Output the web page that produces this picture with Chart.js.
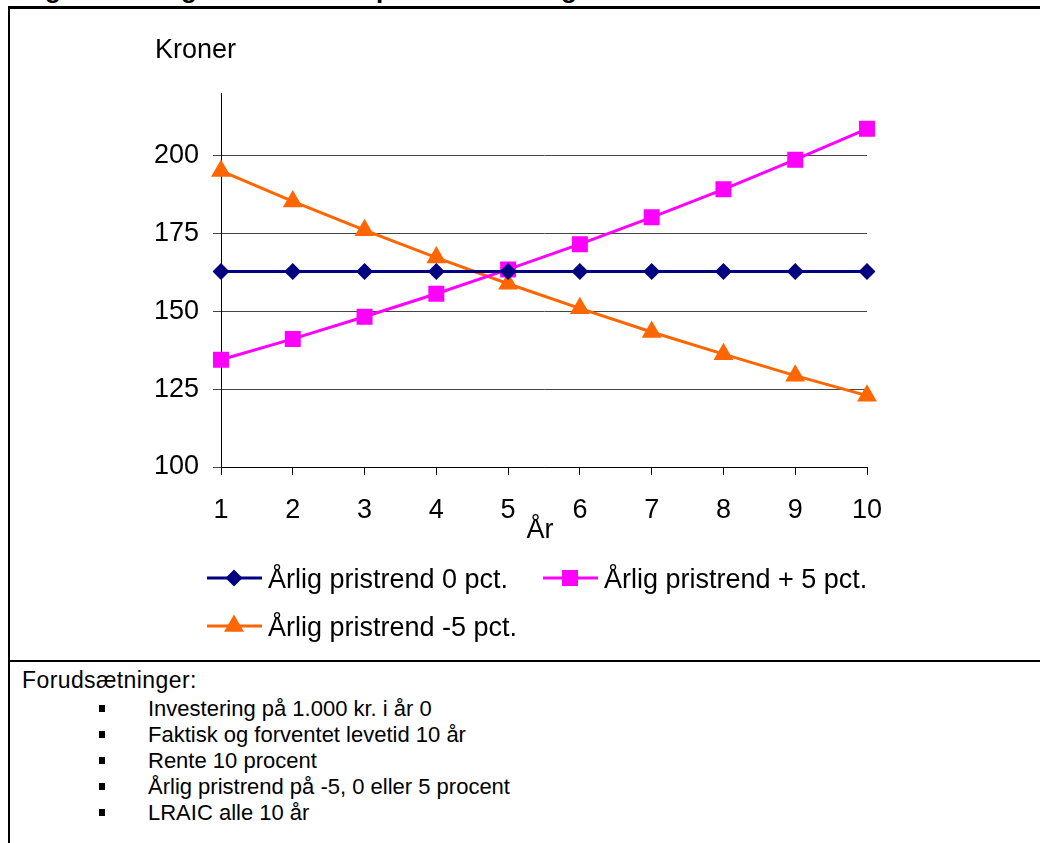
<!DOCTYPE html>
<html>
<head>
<meta charset="utf-8">
<script src="https://cdn.jsdelivr.net/npm/chart.js@4/dist/chart.umd.min.js"></script>
<style>
  body { margin: 0; background: #fff; font-family: "Liberation Sans", Arial, sans-serif; }
  #page { position: relative; width: 1040px; height: 843px; overflow: hidden; }
  .rule { position: absolute; background: #000; }
  #title { position: absolute; left: 22px; top: -26px; font-weight: bold; font-size: 26px; white-space: nowrap; }
  #wrap { position: absolute; left: 0; top: 0; width: 1040px; height: 660px; }
  #notes { position: absolute; left: 22px; top: 667px; font-size: 22px; line-height: 26px; }
  #notes .head { font-size: 23px; letter-spacing: 0.4px; margin-bottom: 3px; }
  #notes ul { list-style: none; margin: 0; padding: 0; }
  #notes li { position: relative; padding-left: 126px; }
  #notes li:before { content: ""; position: absolute; left: 77px; top: 9px; width: 6px; height: 7px; background: #000; }
</style>
</head>
<body>
<div id="page">
  <div id="title">Figur 4.2 Årlige nominelle kapitalomkostninger LRAIC</div>
  <div id="wrap"><canvas id="chart"></canvas></div>
  <div class="rule" style="left:8px;top:6px;width:1032px;height:3px"></div>
  <div class="rule" style="left:8px;top:6px;width:2px;height:837px"></div>
  <div class="rule" style="left:8px;top:660px;width:1032px;height:2px"></div>
  <div id="notes">
    <div class="head">Forudsætninger:</div>
    <ul>
      <li>Investering på 1.000 kr. i år 0</li>
      <li>Faktisk og forventet levetid 10 år</li>
      <li>Rente 10 procent</li>
      <li>Årlig pristrend på -5, 0 eller 5 procent</li>
      <li>LRAIC alle 10 år</li>
    </ul>
  </div>
</div>
<script>
const years = ['1', '2', '3', '4', '5', '6', '7', '8', '9', '10'];
const trendZero = [162.7, 162.7, 162.7, 162.7, 162.7, 162.7, 162.7, 162.7, 162.7, 162.7];
const trendPlus5 = [134.4, 141.1, 148.2, 155.6, 163.4, 171.5, 180.1, 189.1, 198.6, 208.5];
const trendMinus5 = [195.0, 185.2, 176.0, 167.2, 158.8, 150.9, 143.3, 136.2, 129.3, 122.9];
const yTicks = [100, 125, 150, 175, 200];
const seriesNames = ['Årlig pristrend 0 pct.', 'Årlig pristrend + 5 pct.', 'Årlig pristrend -5 pct.'];
const yTitle = 'Kroner';
const xTitle = 'År';

const FONT = '"Liberation Sans", Arial, sans-serif';

// axis titles and the legend (line + marker + text), drawn Excel-style
const extras = {
  id: 'extras',
  afterDraw(chart) {
    const ctx = chart.ctx;
    ctx.save();
    ctx.fillStyle = '#000';
    ctx.font = '27px ' + FONT;
    ctx.textBaseline = 'alphabetic';
    ctx.textAlign = 'left';
    ctx.fillText(yTitle, 155, 58);
    ctx.textAlign = 'center';
    ctx.fillText(xTitle, 540, 538);

    const spots = [[207, 578], [543, 578], [207, 626]];
    chart.data.datasets.forEach((ds, i) => {
      const [x, y] = spots[i];
      ctx.strokeStyle = ds.borderColor;
      ctx.lineWidth = 3;
      ctx.beginPath();
      ctx.moveTo(x, y);
      ctx.lineTo(x + 55, y);
      ctx.stroke();
      ctx.fillStyle = ds.backgroundColor;
      Chart.helpers.drawPoint(ctx, { pointStyle: ds.pointStyle, radius: ds.pointRadius, borderWidth: 0, rotation: 0 }, x + 27, y);
      ctx.fillStyle = '#000';
      ctx.textAlign = 'left';
      ctx.fillText(ds.label, x + 61, y + 10);
    });
    ctx.restore();
  }
};

new Chart(document.getElementById('chart').getContext('2d'), {
  type: 'line',
  data: {
    labels: years,
    datasets: [
      {
        label: seriesNames[0],
        data: trendZero,
        borderColor: '#000080',
        backgroundColor: '#000080',
        pointStyle: 'rectRot',
        pointRadius: 8.5
      },
      {
        label: seriesNames[1],
        data: trendPlus5,
        borderColor: '#ff00ff',
        backgroundColor: '#ff00ff',
        pointStyle: 'rect',
        pointRadius: 11.3
      },
      {
        label: seriesNames[2],
        data: trendMinus5,
        borderColor: '#ff6600',
        backgroundColor: '#ff6600',
        pointStyle: 'triangle',
        pointRadius: 11.5
      }
    ]
  },
  options: {
    responsive: true,
    maintainAspectRatio: false,
    animation: false,
    events: [],
    elements: {
      line: { borderWidth: 3, tension: 0 },
      point: { borderWidth: 0, hoverRadius: 0 }
    },
    layout: { padding: { top: 93, right: 173, bottom: 0, left: 0 } },
    plugins: {
      legend: { display: false },
      tooltip: { enabled: false }
    },
    scales: {
      x: {
        grid: { drawOnChartArea: false, color: '#000', tickLength: 8 },
        border: { color: '#000', width: 1 },
        ticks: { color: '#000', font: { size: 27, family: FONT }, padding: 19, maxRotation: 0, autoSkip: false },
        afterFit: s => { s.height = 193; }
      },
      y: {
        min: 100,
        max: 220,
        grid: { color: '#444', tickLength: 8 },
        border: { color: '#000', width: 1 },
        ticks: { color: '#000', font: { size: 27, family: FONT }, padding: 14 },
        afterBuildTicks: s => { s.ticks = yTicks.map(v => ({ value: v })); },
        afterFit: s => { s.width = 221; }
      }
    }
  },
  plugins: [extras]
});
</script>
</body>
</html>
